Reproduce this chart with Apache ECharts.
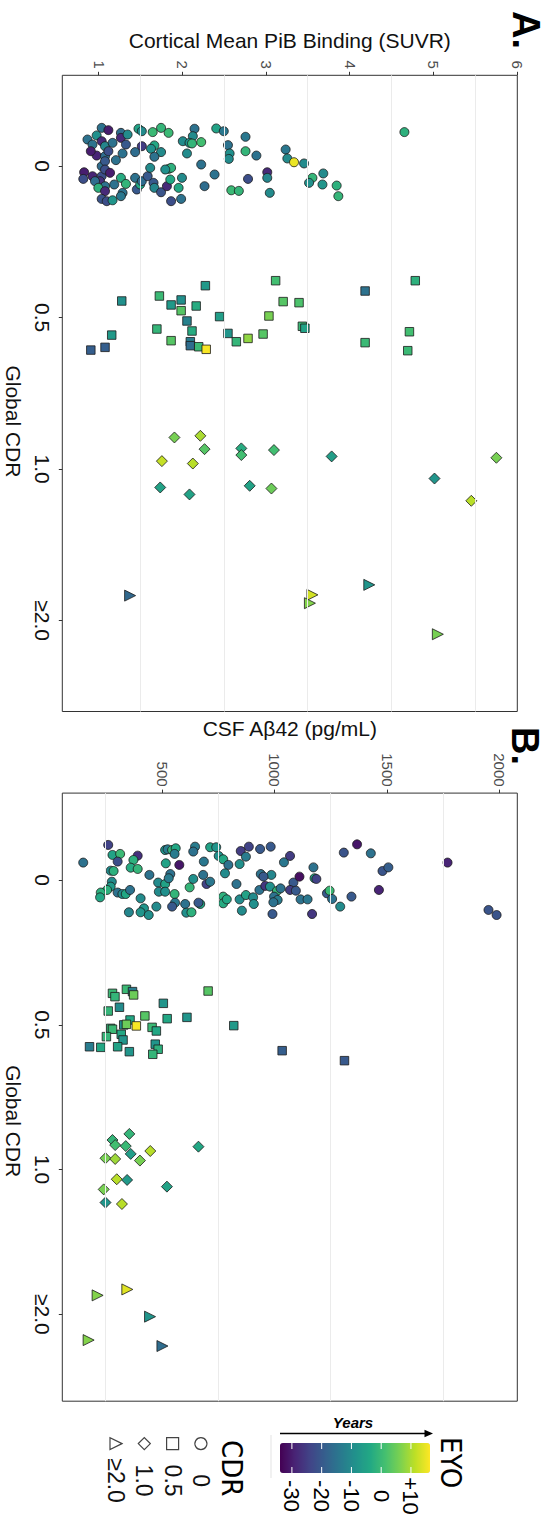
<!DOCTYPE html>
<html>
<head>
<meta charset="utf-8">
<script src="https://cdn.jsdelivr.net/npm/echarts@6/dist/echarts.min.js"></script>
<style>
  html, body { margin: 0; padding: 0; overflow: hidden; background: #ffffff; width: 551px; height: 1524px; }
  /* the figure is laid out landscape and turned a quarter clockwise onto the page */
  #chart { position: absolute; left: 0; top: 0; width: 1524px; height: 551px;
           transform-origin: 0 0; transform: translate(551px, 0) rotate(90deg); }
</style>
</head>
<body>
<div id="chart"></div>
<script>
// ---- categories and ticks ----
const cdrLabels = ['0', '0.5', '1.0', '\u22652.0'];
const suvrTicks = [1, 2, 3, 4, 5, 6];
const suvrGridValues = [1.5, 2.5, 3.5, 4.5, 5.5];
const abetaTicks = [500, 1000, 1500, 2000];
const abetaGridValues = [250, 750, 1250, 1750];
const eyoTicks = [-30, -20, -10, 0, 10];
const eyoTickLabels = ['-30', '-20', '-10', '0', '+10'];
const eyoRange = [-34, 16.4];
const suvrRange = [0.559, 6.0];
const abetaRange = [55, 2077];

// ---- panel A: [jitter, cortical PiB SUVR, EYO] per CDR group ----
const pibCdr0 = [
  [-0.253,1.03,-15],[-0.238,1.11,-30],[-0.176,0.86,-15],[-0.203,0.97,-9],[-0.143,0.92,-15],[-0.165,1.03,-28],
  [-0.132,1.07,-11],[-0.154,1.16,-15],[-0.220,1.26,-16],[-0.187,1.26,-28],[-0.209,1.34,-10],[-0.143,1.32,-20],
  [-0.247,1.47,-5],[-0.231,1.51,-10],[-0.225,1.64,0],[-0.253,1.74,-1],[-0.220,1.83,0],[-0.132,1.51,-25],
  [-0.137,1.66,-4],[-0.093,1.43,-16],[-0.115,1.62,-9],[-0.093,1.74,-10],[-0.062,1.66,-15],[-0.247,2.14,-15],
  [-0.198,2.12,-10],[-0.165,2.00,-10],[-0.154,2.08,-9],[-0.150,2.11,-1],[-0.159,2.22,1],[-0.084,2.05,-10],
  [-0.249,2.40,-5],[-0.231,2.49,-14],[-0.139,2.54,-15],[-0.084,2.56,-9],[-0.048,2.55,-10],[-0.194,2.75,-14],
  [-0.099,2.75,-1],[-0.070,2.88,-15],[-0.110,3.23,-14],[-0.051,3.25,-10],[-0.026,3.33,15],[-0.018,3.45,-10],
  [0.040,3.01,-28],[0.077,3.01,-11],[0.084,2.78,-22],[0.055,2.38,-15],[-0.011,2.22,-15],[0.132,2.26,-16],
  [0.159,2.58,0],[0.163,2.67,-1],[0.176,3.04,-10],[0.077,3.55,-1],[0.110,3.51,-9],[0.048,3.68,-10],
  [0.121,3.67,-8],[0.128,3.84,-2],[0.198,3.86,-1],[-0.225,4.65,-2],
  [-0.070,0.97,-29],[-0.066,1.07,-16],[-0.099,1.11,-22],[-0.040,1.20,-15],[-0.084,1.28,-15],[0.000,1.03,-16],
  [-0.033,1.07,-20],[0.040,0.82,-30],[0.084,0.81,-22],[0.066,0.92,-29],[0.066,1.03,-22],[0.099,1.01,-27],
  [0.099,0.95,-16],[0.132,1.07,-15],[0.143,0.99,-2],[0.165,1.07,-28],[0.121,1.18,-15],[0.077,1.26,-3],
  [0.176,1.28,-15],[0.198,1.26,-14],[0.216,1.03,-21],[0.231,1.09,-22],[0.225,1.16,-8],[0.117,1.32,-1],
  [0.077,1.43,-15],[0.154,1.45,-20],[0.121,1.49,-4],[0.099,1.51,-16],[0.066,1.58,-20],[0.011,1.61,-10],
  [0.110,1.65,-20],[0.143,1.66,-11],[0.172,1.74,-21],[0.132,1.81,-28],[0.018,1.83,-1],[0.011,1.86,-2],
  [0.022,1.79,-9],[0.088,1.85,-4],[0.143,1.95,-4],[0.077,1.99,-10],[0.216,1.98,-15],[0.231,1.86,-22],
  [0.022,1.07,-22],[0.044,1.13,-30],[-0.099,0.90,-30]
];
const pibCdr05 = [
  [-0.110,1.27,-9],[0.115,1.15,-7],[0.214,0.90,-19],[0.196,1.07,-19],[-0.143,1.72,0],[-0.084,1.86,-7],
  [-0.117,1.98,-9],[-0.046,1.98,3],[-0.077,2.16,-3],[-0.211,2.27,-7],[0.022,2.05,-12],[0.088,2.11,-3],
  [0.075,1.69,-1],[0.152,1.86,3],[0.159,2.09,-13],[0.185,2.09,-16],[0.192,2.19,0],[0.209,2.28,16],
  [-0.007,2.44,-6],[0.104,2.54,-8],[0.159,2.64,-1],[0.137,2.78,8],[0.108,2.96,3],[-0.011,3.03,6],
  [-0.244,3.11,1],[-0.106,3.20,3],[-0.099,3.39,2],[0.057,3.43,0],[0.070,3.46,-5],[-0.176,4.18,-15],
  [0.165,4.18,0],[-0.244,4.78,-2],[0.093,4.71,1],[0.218,4.69,0]
];
const pibCdr1 = [
  [-0.209,1.90,6],[-0.220,2.21,10],[-0.132,2.26,3],[-0.053,1.75,12],[-0.037,2.12,11],[-0.137,2.70,-3],
  [-0.093,2.70,1],[-0.126,3.09,1],[-0.084,3.78,-6],[-0.075,5.75,6],[0.062,5.01,-8],[0.121,1.73,-5],
  [0.167,2.08,-5],[0.110,2.80,-5],[0.128,3.06,5],[0.209,5.45,11]
];
const pibCdr2 = [
  [-0.165,1.37,-17],[-0.170,3.55,13],[-0.115,3.52,7],[-0.236,4.23,-8],[0.090,5.05,6]
];

// ---- panel B: [jitter, CSF Abeta42 pg/mL, EYO] per CDR group ----
const abetaCdr0 = [
  [-0.120,148,-15],[-0.242,259,-24],[-0.173,278,-5],[-0.180,312,0],[-0.127,301,-22],[-0.064,270,-10],
  [-0.062,283,-2],[0.012,275,-10],[0.046,270,-7],[0.069,254,-2],[0.087,226,-2],[0.120,223,-4],
  [0.087,301,-15],[0.097,322,-10],[0.097,337,-4],[0.069,356,-15],[-0.168,390,-27],[-0.138,371,-2],
  [-0.085,359,-3],[-0.076,390,-1],[-0.035,442,-15],[0.127,403,-10],[0.196,418,-8],[0.223,403,-8],
  [0.242,439,-9],[0.223,351,-11],[0.184,473,-10],[0.018,481,-10],[0.028,512,-5],[0.081,484,-10],
  [-0.115,515,-5],[-0.207,512,-8],[-0.212,523,-13],[-0.207,543,-1],[-0.219,559,-4],[-0.180,554,-13],
  [-0.041,535,-15],[-0.012,528,-13],[-0.104,575,-31],[0.081,512,-9],[0.097,554,-1],[0.157,556,-14],
  [0.184,543,-20],[0.166,601,-15],[0.226,606,-9],[0.223,629,-2],[0.166,668,-4],[0.157,660,-20],
  [0.051,621,-1],[-0.007,637,-9],[-0.230,645,-13],[-0.196,637,-15],[-0.127,684,-14],[-0.035,681,-15],
  [0.028,696,-24],[0.012,712,-14],[-0.226,712,-5],[-0.226,739,-8],[-0.166,750,-9],[-0.143,770,-4],
  [-0.104,793,-15],[-0.046,778,-10],[0.028,829,-15],[0.115,770,-2],[0.161,770,-3],[0.134,786,-4],
  [0.134,843,-10],[0.212,853,-10],[0.104,871,-5],[0.120,903,-10],[0.166,906,-9],[-0.110,843,-9],
  [-0.200,848,-25],[-0.161,871,-13],[-0.230,884,-24],[-0.214,934,-20],[-0.230,981,-20],[-0.041,937,-15],
  [-0.035,984,-11],[-0.023,949,-20],[0.069,931,-15],[0.041,957,-26],[0.046,978,-9],[0.076,1009,-1],
  [0.058,1025,-15],[0.115,996,-15],[0.138,1012,-13],[0.154,993,-15],[0.235,989,-20],[-0.122,1040,-14],
  [-0.166,1067,-25],[0.018,1082,-20],[0.069,1067,-25],[0.074,1093,-20],[-0.023,1109,-32],[0.134,1114,-15],
  [0.134,1145,-14],[-0.087,1171,-15],[-0.012,1176,-4],[-0.007,1184,-24],[0.235,1165,-26],[0.092,1231,-20],
  [0.074,1243,0],[0.131,1254,-15],[0.184,1290,-10],[-0.189,1306,-21],[0.115,1340,-20],[-0.246,1365,-31],
  [-0.184,1426,-15],[0.069,1462,-29],[-0.062,1478,-21],[-0.087,1504,-19],[-0.120,1767,-29],[0.207,1949,-21],
  [0.242,1985,-21]
];
const abetaCdr05 = [
  [-0.217,278,0],[-0.194,289,-1],[-0.245,340,0],[-0.229,367,-13],[-0.206,372,5],[-0.233,703,3],
  [-0.148,504,-8],[-0.121,309,-10],[-0.095,259,-1],[-0.061,422,3],[-0.042,521,-4],[-0.051,609,-8],
  [-0.033,356,-4],[0.001,328,-9],[-0.003,340,5],[0.008,384,16],[0.025,270,-1],[0.031,278,0],
  [0.018,454,0],[0.043,473,-4],[0.006,817,-7],[0.082,251,-1],[0.066,317,-4],[0.105,325,-8],
  [0.152,176,-13],[0.156,226,-4],[0.152,301,-5],[0.186,353,-8],[0.134,468,-8],[0.169,481,-2],
  [0.204,457,-1],[0.179,1032,-19],[0.248,1309,-20]
];
const abetaCdr1 = [
  [-0.246,353,-1],[-0.204,278,-1],[-0.169,290,1],[-0.162,337,0],[-0.108,359,-6],[-0.128,446,11],
  [-0.158,660,-4],[-0.078,247,6],[-0.073,290,9],[-0.062,400,6],[0.067,297,11],[0.072,343,-7],
  [0.137,239,6],[0.118,520,-5],[0.228,247,-8],[0.238,320,11]
];
const abetaCdr2 = [
  [-0.172,344,14],[-0.131,212,7],[0.016,445,-8],[0.178,172,7],[0.219,500,-16]
];

// ---- styling ----
const viridis = ['#440154','#482475','#414487','#355f8d','#2a788e','#21918c','#22a884','#44bf70','#7ad151','#bddf26','#fde725'];
const cdrSymbols = ['circle', 'rect', 'diamond', 'triangle'];
const cdrSizes = [9, 8.5, 11, 11];
const FONT = "'Liberation Sans', Arial, Helvetica, sans-serif";
const NARROW = "'Liberation Sans Narrow', 'DejaVu Sans Condensed', 'Liberation Sans', sans-serif";

const panels = [
  { groups: [pibCdr0, pibCdr05, pibCdr1, pibCdr2], name: 'Cortical Mean PiB Binding (SUVR)',
    range: suvrRange, ticks: suvrTicks, gridValues: suvrGridValues, nameGap: 24, cdrShift: 28,
    grid: { left: 75.3, top: 33.7, width: 636.2, height: 455 } },
  { groups: [abetaCdr0, abetaCdr05, abetaCdr1, abetaCdr2], name: 'CSF A\u03b242 (pg/mL)',
    range: abetaRange, ticks: abetaTicks, gridValues: abetaGridValues, nameGap: 54, cdrShift: 24,
    grid: { left: 793.1, top: 33.7, width: 608.1, height: 455 } }
];

const grid = [], xAxis = [], yAxis = [], series = [], scatterIdx = [];
panels.forEach((p, pi) => {
  grid.push(Object.assign({ show: true, borderColor: '#333333', borderWidth: 1, backgroundColor: '#ffffff',
                            outerBoundsMode: 'none', containLabel: false }, p.grid));
  xAxis.push({
    type: 'value', gridIndex: pi, min: -0.6, max: 3.6, position: 'bottom',
    axisLine: { show: false, onZero: false }, splitLine: { show: false },
    axisTick: { show: true, customValues: [0, 1, 2, 3], length: 3.5, lineStyle: { color: '#333333', width: 1 } },
    axisLabel: { customValues: [0, 1, 2, 3], formatter: v => cdrLabels[Math.round(v)],
                 fontSize: 21, color: '#111111', margin: 9, fontFamily: FONT },
    name: 'Global CDR', nameLocation: 'middle', nameGap: 38, nameMoveOverlap: false,
    nameTextStyle: { fontSize: 21, color: '#111111', fontFamily: FONT, padding: [0, 0, 0, p.cdrShift * 2] }
  });
  yAxis.push({
    type: 'value', gridIndex: pi, min: p.range[0], max: p.range[1], position: 'left',
    axisLine: { show: false, onZero: false }, splitLine: { show: false },
    axisTick: { show: true, customValues: p.ticks, length: 3.5, lineStyle: { color: '#333333', width: 1 } },
    axisLabel: { customValues: p.ticks, formatter: v => String(v), fontSize: 15, color: '#4d4d4d',
                 margin: 6.5, fontFamily: FONT },
    name: p.name, nameLocation: 'middle', nameGap: p.nameGap, nameMoveOverlap: false,
    nameTextStyle: { fontSize: 21, color: '#111111', fontFamily: FONT }
  });
  // light guide lines behind the points
  series.push({
    type: 'scatter', xAxisIndex: pi, yAxisIndex: pi, data: [], z: 1, silent: true,
    markLine: { silent: true, symbol: ['none', 'none'], label: { show: false }, animation: false,
                lineStyle: { color: '#ebebeb', width: 1, type: 'solid' },
                data: p.gridValues.map(v => ({ yAxis: v })) }
  });
  p.groups.forEach((pts, g) => {
    scatterIdx.push(series.length);
    series.push({
      type: 'scatter', name: cdrLabels[g], xAxisIndex: pi, yAxisIndex: pi, z: 3,
      symbol: cdrSymbols[g], symbolSize: cdrSizes[g],
      data: pts.map(d => [g + d[0], d[1], d[2]]),
      itemStyle: { borderColor: '#1b1b1b', borderWidth: 0.8, opacity: 1 },
      emphasis: { disabled: true }, animation: false
    });
  });
});

// colour bar geometry (EYO legend)
const bar = { left: 1443, top: 121, width: 30, height: 150 };
const eyoY = v => bar.top + (eyoRange[1] - v) / (eyoRange[1] - eyoRange[0]) * bar.height;

const graphic = [
  { type: 'text', x: 11, y: 25, style: { text: 'A.', fontSize: 38, fontWeight: 'bold', fontFamily: FONT, fill: '#000', align: 'left', verticalAlign: 'middle' } },
  { type: 'text', x: 727, y: 26, style: { text: 'B.', fontSize: 38, fontWeight: 'bold', fontFamily: FONT, fill: '#000', align: 'left', verticalAlign: 'middle' } },
  { type: 'text', x: 1437, y: 100, style: { text: 'EYO', fontSize: 29, fontFamily: NARROW, fill: '#000', align: 'left', verticalAlign: 'middle' } },
  { type: 'text', x: 1440, y: 319, style: { text: 'CDR', fontSize: 29, fontFamily: NARROW, fill: '#000', align: 'left', verticalAlign: 'middle' } },
  { type: 'text', x: 1422, y: 198, rotation: Math.PI / 2,
    style: { text: 'Years', fontSize: 15, fontWeight: 'bold', fontStyle: 'italic', fontFamily: FONT, fill: '#000', align: 'center', verticalAlign: 'middle' } },
  { type: 'line', shape: { x1: 1433.5, y1: eyoY(eyoRange[0]), x2: 1433.5, y2: bar.top + 3 }, style: { stroke: '#000', lineWidth: 1.6 } },
  { type: 'polygon', shape: { points: [[1433.5, bar.top - 3], [1429.8, bar.top + 5.5], [1437.2, bar.top + 5.5]] }, style: { fill: '#000' } },
  { type: 'line', shape: { x1: 1435, y1: 280, x2: 1478, y2: 280 }, style: { stroke: '#e3e3e3', lineWidth: 1 } }
];
eyoTicks.forEach((v, i) => {
  const y = eyoY(v);
  graphic.push({ type: 'line', z: 20, shape: { x1: bar.left, y1: y, x2: bar.left + 6, y2: y }, style: { stroke: '#ffffff', lineWidth: 1 } });
  graphic.push({ type: 'line', z: 20, shape: { x1: bar.left + bar.width - 6, y1: y, x2: bar.left + bar.width, y2: y }, style: { stroke: '#ffffff', lineWidth: 1 } });
  graphic.push({ type: 'text', x: 1496, y: y, style: { text: eyoTickLabels[i], fontSize: 22, fontFamily: FONT, fill: '#000', align: 'center', verticalAlign: 'middle' } });
});

const chart = echarts.init(document.getElementById('chart'), null, { renderer: 'svg', width: 1524, height: 551 });
chart.setOption({
  animation: false,
  backgroundColor: '#ffffff',
  textStyle: { fontFamily: FONT },
  grid, xAxis, yAxis, series, graphic,
  visualMap: {
    type: 'continuous', min: eyoRange[0], max: eyoRange[1], dimension: 2, seriesIndex: scatterIdx,
    inRange: { color: viridis }, orient: 'vertical', left: bar.left, top: bar.top,
    itemWidth: bar.width, itemHeight: bar.height, padding: 0, calculable: false,
    hoverLink: false, realtime: false, show: true
  },
  legend: {
    orient: 'vertical', left: 1437, top: 338.6, itemWidth: 12, itemHeight: 12, itemGap: 5.3,
    selectedMode: false, padding: 0,
    data: cdrLabels.map((n, i) => ({ name: n, icon: cdrSymbols[i] })),
    itemStyle: { color: '#ffffff', borderColor: '#444444', borderWidth: 1.2 },
    formatter: '{t|{name}}',
    textStyle: { rich: { t: { width: 52, align: 'center', fontSize: 23, lineHeight: 24, color: '#111111', fontFamily: FONT } } }
  }
});
</script>
</body>
</html>
